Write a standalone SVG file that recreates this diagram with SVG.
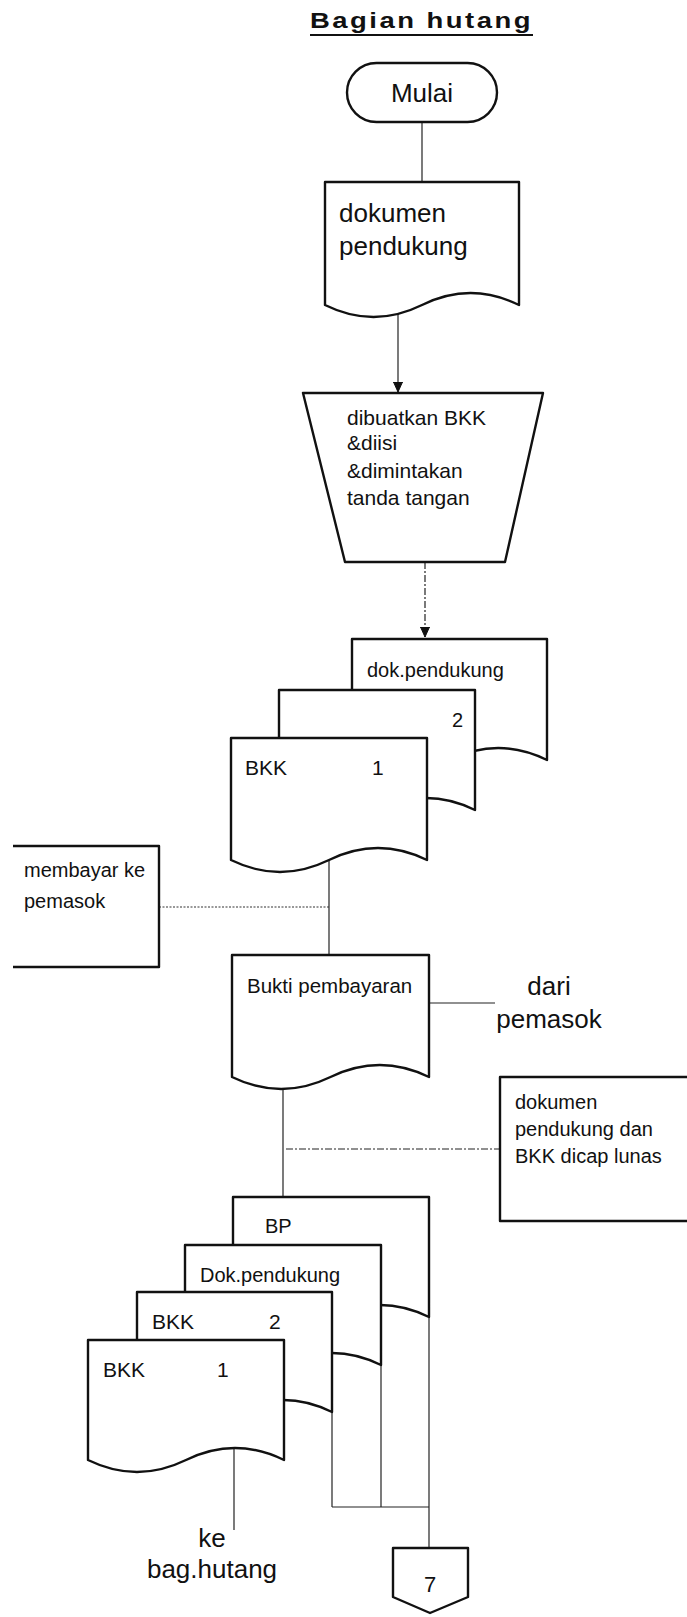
<svg xmlns="http://www.w3.org/2000/svg" width="687" height="1617" viewBox="0 0 687 1617">
<defs>
<style>
.s{fill:#fff;stroke:#111;stroke-width:2.4;stroke-linejoin:round}
.c{fill:none;stroke:#222;stroke-width:1.2}
.d{fill:none;stroke:#333;stroke-width:1.1;stroke-dasharray:2 1.5}
.dd{fill:none;stroke:#222;stroke-width:1.2;stroke-dasharray:7 2 2 2}
text{font-family:"Liberation Sans",Arial,sans-serif;fill:#111}
.t20{font-size:20px}
.t21{font-size:21px}
.t26{font-size:26px}
</style>
<marker id="ar" markerWidth="12" markerHeight="12" refX="10" refY="5" orient="auto" markerUnits="userSpaceOnUse">
<path d="M0,0.5 L10,5 L0,9.5 Z M0,0 V10" fill="#111" stroke="#111" stroke-width="1"/>
</marker>
</defs>
<rect width="687" height="1617" fill="#fff"/>

<g id="title">
<text x="310" y="28" font-size="22" font-weight="bold" letter-spacing="2" textLength="223" lengthAdjust="spacingAndGlyphs">Bagian hutang</text>
<line x1="310" y1="35" x2="533" y2="35" stroke="#111" stroke-width="2"/>
</g>

<g id="connectors">
<line class="c" x1="422" y1="122" x2="422" y2="182"/>
<line class="c" x1="398" y1="314" x2="398" y2="392" marker-end="url(#ar)"/>
<line class="dd" x1="425" y1="562" x2="425" y2="637" marker-end="url(#ar)"/>
<line class="c" x1="329" y1="860" x2="329" y2="955"/>
<line class="d" x1="159" y1="907" x2="329" y2="907"/>
<line class="c" x1="429" y1="1003" x2="495" y2="1003"/>
<line class="c" x1="283" y1="1089" x2="283" y2="1197"/>
<line class="dd" x1="286" y1="1149" x2="500" y2="1149"/>
<line class="c" x1="234" y1="1448" x2="234" y2="1530"/>
<line class="c" x1="332" y1="1412" x2="332" y2="1507"/>
<line class="c" x1="381" y1="1365" x2="381" y2="1507"/>
<line class="c" x1="429" y1="1317" x2="429" y2="1548"/>
<line class="c" x1="332" y1="1507" x2="429" y2="1507"/>
</g>

<g id="mulai">
<rect class="s" x="347" y="63" width="150" height="59" rx="29.5"/>
<text class="t26" x="422" y="102" text-anchor="middle">Mulai</text>
</g>

<g id="dokumen-pendukung">
<path class="s" d="M325,182 H519 V305 Q470.5,281 422,305 T325,305 Z"/>
<text class="t26" x="339" y="222">dokumen</text>
<text class="t26" x="339" y="255">pendukung</text>
</g>

<g id="dibuatkan-bkk">
<path class="s" d="M303,393 H543 L505,562 H345 Z"/>
<text class="t21" x="347" y="425">dibuatkan BKK</text>
<text class="t21" x="347" y="450">&amp;diisi</text>
<text class="t21" x="347" y="478">&amp;dimintakan</text>
<text class="t21" x="347" y="505">tanda tangan</text>
</g>

<g id="dok-pendukung-top">
<path class="s" d="M352,639 H547 V760 Q498.25,736 449.5,760 T352,760 Z"/>
<text class="t20" x="367" y="677">dok.pendukung</text>
</g>
<g id="bkk2-top">
<path class="s" d="M279,690 H475 V810 Q426,786 377,810 T279,810 Z"/>
<text class="t20" x="452" y="727">2</text>
</g>
<g id="bkk1-top">
<path class="s" d="M231,738 H427 V860 Q378,836 329,860 T231,860 Z"/>
<text class="t21" x="245" y="775">BKK</text>
<text class="t21" x="372" y="775">1</text>
</g>

<g id="membayar">
<path class="s" d="M13,846 H159 V967 H13"/>
<text class="t20" x="24" y="877">membayar ke</text>
<text class="t20" x="24" y="908">pemasok</text>
</g>

<g id="bukti-pembayaran">
<path class="s" d="M232,955 H429 V1077 Q379.75,1053 330.5,1077 T232,1077 Z"/>
<text x="247" y="993" font-size="20.5">Bukti pembayaran</text>
</g>

<g id="dari-pemasok">
<text class="t26" x="549" y="995" text-anchor="middle">dari</text>
<text class="t26" x="549" y="1028" text-anchor="middle">pemasok</text>
</g>

<g id="dicap-lunas">
<path class="s" d="M688,1077 H500 V1221 H688"/>
<text class="t20" x="515" y="1109">dokumen</text>
<text class="t20" x="515" y="1136">pendukung dan</text>
<text class="t20" x="515" y="1163">BKK dicap lunas</text>
</g>

<g id="bp">
<path class="s" d="M233,1197 H429 V1317 Q380,1293 331,1317 T233,1317 Z"/>
<text class="t20" x="265" y="1233">BP</text>
</g>
<g id="dok-pendukung-bottom">
<path class="s" d="M185,1245 H381 V1365 Q332,1341 283,1365 T185,1365 Z"/>
<text class="t20" x="200" y="1282">Dok.pendukung</text>
</g>
<g id="bkk2-bottom">
<path class="s" d="M137,1292 H332 V1412 Q283.25,1388 234.5,1412 T137,1412 Z"/>
<text class="t21" x="152" y="1329">BKK</text>
<text class="t21" x="269" y="1329">2</text>
</g>
<g id="bkk1-bottom">
<path class="s" d="M88,1340 H284 V1460 Q235,1436 186,1460 T88,1460 Z"/>
<text class="t21" x="103" y="1377">BKK</text>
<text class="t21" x="217" y="1377">1</text>
</g>

<g id="ke-bag-hutang">
<text class="t26" x="212" y="1547" text-anchor="middle">ke</text>
<text class="t26" x="212" y="1578" text-anchor="middle">bag.hutang</text>
</g>

<g id="connector-7">
<path class="s" d="M393,1548 H468 V1597 L430,1613 L393,1597 Z"/>
<text x="430" y="1592" font-size="22" text-anchor="middle">7</text>
</g>
</svg>
